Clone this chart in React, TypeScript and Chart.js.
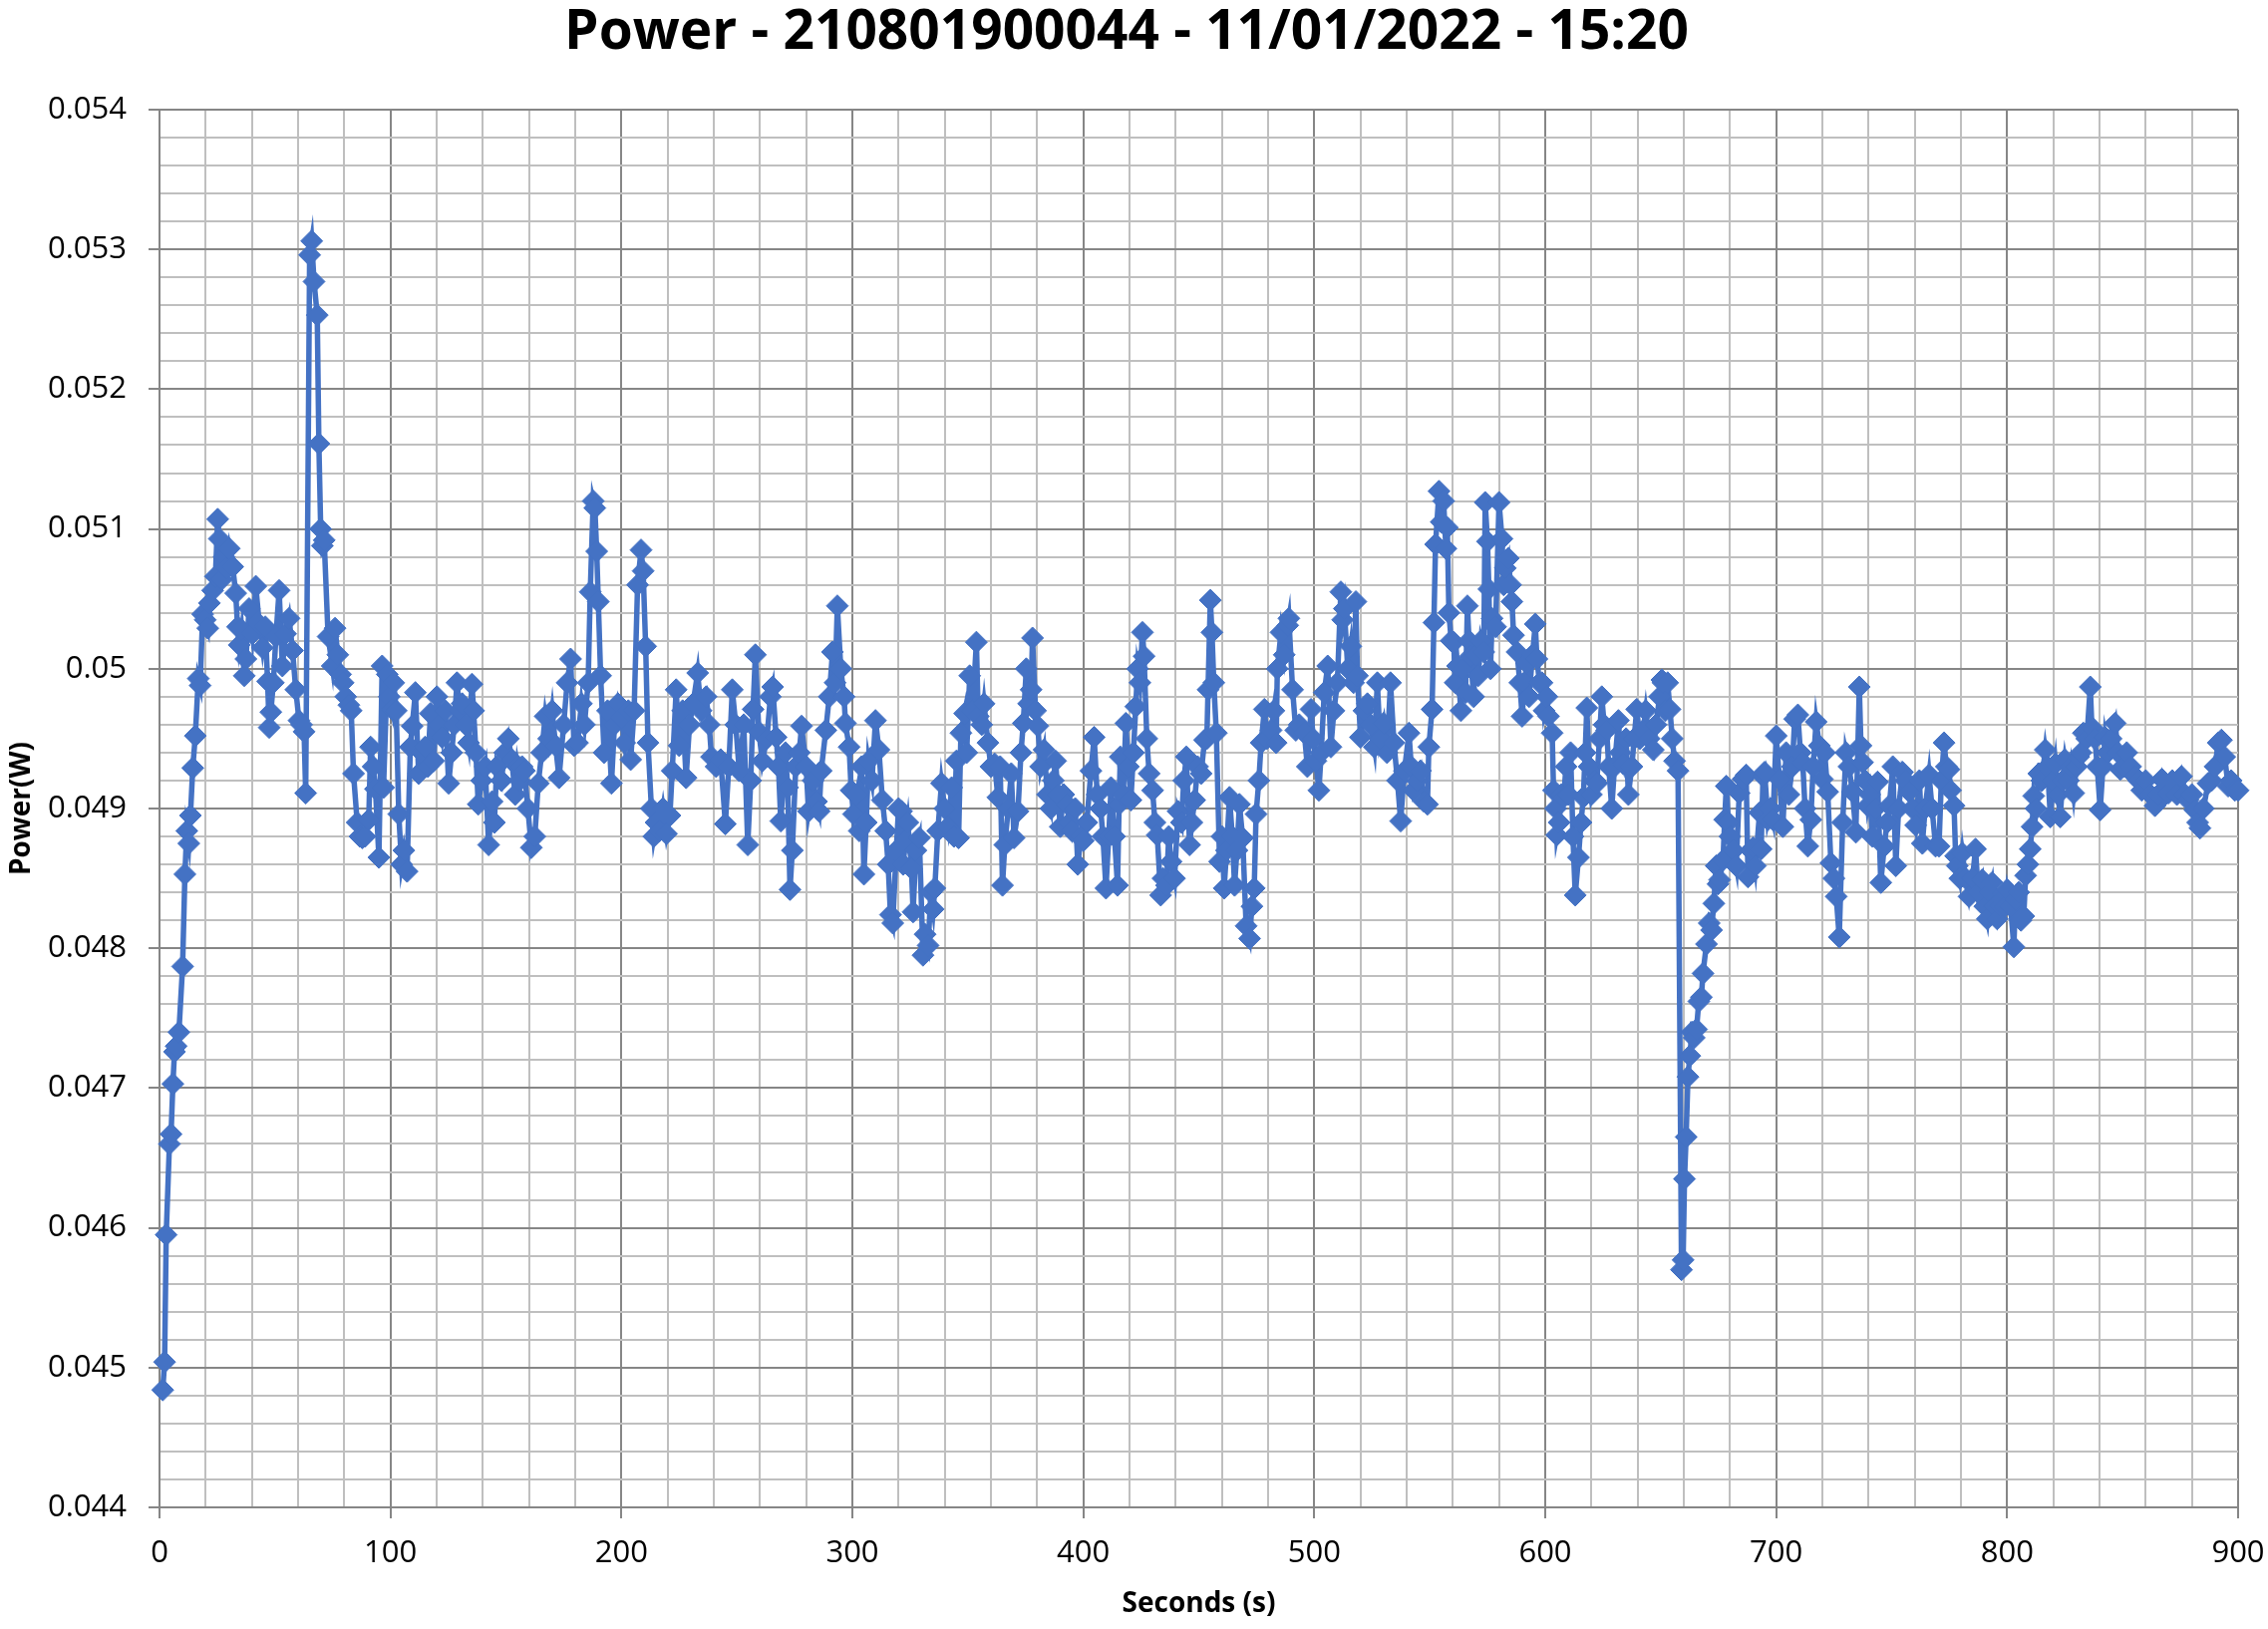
import React, { useEffect, useRef } from "react";
import { Chart, registerables } from "chart.js";

Chart.register(...registerables);

const chartTitle = "Power - 210801900044 - 11/01/2022 - 15:20";
const xAxisTitle = "Seconds (s)";
const yAxisTitle = "Power(W)";
const xMin = 0;
const xMax = 900;
const xStep = 20;
const xMajor = 100;
const yMin = 0.044;
const yMax = 0.054;
const yStep = 0.0002;
const yMajor = 0.001;

// [seconds, watts] readings, split per 100 s
const seg000: [number, number][] = [
  [1.4,0.04484],[2.2,0.04504],[2.9,0.04595],[4.3,0.0466],[5.0,0.04667],[5.8,0.04703],[6.5,0.04726],[7.2,0.0473],[8.4,0.0474],[10.0,0.04787],[11.0,0.04853],[11.8,0.04884],[12.7,0.04875],[13.4,0.04895],[14.4,0.04929],[15.5,0.04952],[16.8,0.04993],[17.6,0.04988],[18.7,0.05039],[19.8,0.05035],[20.9,0.05029],[21.6,0.05047],[23.0,0.05056],[24.2,0.05066],[25.2,0.05107],[25.9,0.05093],[27.0,0.05064],[28.0,0.0508],[29.0,0.05072],[30.2,0.05086],[31.7,0.05073],[33.0,0.05054],[33.8,0.0503],[34.5,0.05017],[35.5,0.05028],[36.7,0.04995],[37.4,0.05007],[38.8,0.05043],[40.2,0.05025],[41.7,0.05059],[43.2,0.05032],[44.6,0.05015],[45.8,0.0503],[46.8,0.04991],[47.5,0.04958],[48.2,0.04969],[49.3,0.0499],[50.4,0.05023],[51.8,0.05056],[53.2,0.05002],[54.6,0.05025],[56.1,0.05036],[57.6,0.05013],[59.0,0.04985],[60.4,0.04963],[61.5,0.0496],[62.6,0.04955],[63.3,0.04911],[65.0,0.05296],[65.9,0.05306],[66.9,0.05277],[68.3,0.05253],[69.0,0.05161],[69.8,0.051],[70.5,0.05088],[71.3,0.05092],[73.0,0.05023],[74.8,0.05002],[76.0,0.05029],[77.2,0.0501],[78.4,0.04996],[79.5,0.0499],[80.6,0.0498],[82.0,0.04974],[83.0,0.0497],[84.0,0.04925],[85.6,0.0489],[86.8,0.0488],[87.8,0.04879],[89.0,0.0488],[90.6,0.04892],[91.4,0.04944],[92.5,0.0493],[93.5,0.04914],[95.0,0.04865],[96.4,0.05002],[97.0,0.04915],[98.6,0.04996],[99.5,0.0498],
];
const seg100: [number, number][] = [
  [100.7,0.04971],[101.4,0.0499],[102.5,0.0497],[103.6,0.04896],[104.8,0.0486],[105.8,0.0487],[107.2,0.04855],[108.6,0.04944],[109.4,0.04959],[110.8,0.04983],[112.2,0.04925],[113.5,0.0494],[115.0,0.04944],[116.2,0.0493],[117.3,0.04968],[118.7,0.04934],[120.1,0.0498],[121.2,0.0496],[122.3,0.04951],[123.7,0.0497],[125.2,0.04918],[126.5,0.0494],[127.6,0.0496],[128.8,0.0499],[130.0,0.0497],[131.0,0.04975],[132.5,0.0496],[133.8,0.04947],[135.3,0.04989],[136.0,0.0497],[137.0,0.0494],[138.0,0.04903],[139.5,0.0492],[141.0,0.0493],[142.5,0.04874],[144.0,0.04905],[145.0,0.0489],[146.0,0.0493],[148.0,0.0492],[149.5,0.0494],[151.0,0.0495],[152.5,0.04935],[154.0,0.0491],[155.0,0.0493],[156.0,0.0492],[157.0,0.0493],[158.0,0.04927],[159.5,0.049],[161.0,0.04872],[162.5,0.0488],[164.0,0.04918],[165.5,0.0494],[167.0,0.04966],[168.5,0.0495],[170.0,0.0497],[171.5,0.04945],[173.0,0.04922],[175.0,0.0496],[176.5,0.0499],[178.0,0.05007],[179.5,0.04945],[181.0,0.04947],[182.7,0.04975],[184.0,0.0496],[185.6,0.0499],[186.5,0.05055],[187.8,0.0512],[188.5,0.05115],[189.3,0.05084],[190.0,0.05048],[191.0,0.04995],[192.5,0.0494],[194.0,0.0497],[195.7,0.04918],[197.0,0.0496],[198.5,0.04975],[200.0,0.04965],
];
const seg200: [number, number][] = [
  [201.4,0.04947],[203.0,0.0497],[204.0,0.04935],[205.5,0.0497],[207.0,0.0506],[208.5,0.05085],[209.4,0.0507],[210.5,0.05016],[211.5,0.04947],[213.0,0.049],[214.0,0.0488],[215.0,0.0489],[216.5,0.04884],[218.0,0.049],[219.5,0.04882],[221.0,0.04895],[222.0,0.04927],[223.7,0.04985],[225.0,0.04945],[226.5,0.0497],[228.0,0.04922],[229.5,0.0496],[231.0,0.04975],[233.0,0.04997],[234.5,0.0497],[236.7,0.0498],[238.0,0.0496],[239.0,0.04937],[241.0,0.0493],[243.0,0.04935],[245.0,0.04889],[246.5,0.0493],[248.0,0.04985],[249.5,0.0496],[251.0,0.04927],[253.0,0.0496],[254.7,0.04874],[256.0,0.0492],[257.0,0.04971],[258.0,0.0501],[259.5,0.04955],[261.0,0.04934],[263.0,0.0495],[264.5,0.0498],[265.5,0.04987],[267.0,0.04951],[268.0,0.0493],[269.0,0.04891],[271.0,0.0494],[272.0,0.04915],[273.0,0.04842],[274.0,0.0487],[275.5,0.0493],[277.0,0.0494],[278.0,0.04959],[280.0,0.0493],[281.0,0.04898],[283.0,0.0492],[284.5,0.04905],[285.6,0.04898],[286.5,0.04927],[288.5,0.04956],[290.0,0.0498],[291.4,0.05012],[292.5,0.0499],[293.5,0.05045],[295.0,0.05],[296.4,0.0498],[297.0,0.04961],[298.6,0.04944],[299.5,0.04913],
];
const seg300: [number, number][] = [
  [300.5,0.04896],[302.0,0.0491],[303.0,0.04884],[304.0,0.0493],[305.0,0.04853],[306.0,0.0489],[307.0,0.04934],[308.5,0.0492],[310.0,0.04963],[311.5,0.04942],[313.0,0.04906],[314.4,0.04884],[315.5,0.0486],[316.5,0.04824],[317.5,0.04818],[319.0,0.0487],[320.0,0.049],[321.3,0.04898],[322.0,0.0486],[323.0,0.04877],[324.0,0.0489],[325.6,0.04857],[326.3,0.04826],[327.5,0.0487],[329.0,0.04879],[330.6,0.04795],[331.5,0.0481],[332.8,0.04802],[334.0,0.0484],[335.0,0.04828],[335.7,0.04843],[337.0,0.04884],[338.6,0.04918],[340.0,0.049],[341.4,0.04887],[343.0,0.04915],[344.0,0.0488],[345.0,0.04934],[346.0,0.04879],[347.0,0.04954],[348.6,0.04968],[349.5,0.0494],[350.8,0.04995],[352.0,0.0497],[353.7,0.05019],[354.5,0.04966],[356.0,0.0496],[357.0,0.04975],[358.7,0.04947],[360.0,0.0493],[361.6,0.04932],[363.0,0.04908],[364.0,0.0493],[365.0,0.04845],[366.0,0.04874],[367.5,0.049],[368.8,0.04925],[370.0,0.04879],[371.7,0.04898],[373.0,0.0494],[374.0,0.04961],[375.3,0.05],[376.3,0.04975],[377.4,0.04985],[378.0,0.05022],[379.3,0.0497],[380.3,0.04959],[381.5,0.0493],[383.0,0.04942],[384.5,0.0491],[386.0,0.049],[387.0,0.0492],[388.0,0.04934],[389.0,0.0491],[390.0,0.04887],[391.5,0.0491],[393.0,0.04903],[394.0,0.0489],[395.0,0.04884],[396.5,0.049],[397.6,0.0486],[399.0,0.0488],
];
const seg400: [number, number][] = [
  [400.0,0.04877],[401.5,0.0489],[403.3,0.04927],[404.7,0.04951],[406.0,0.0491],[407.5,0.049],[408.5,0.0488],[409.8,0.04843],[411.0,0.0488],[412.0,0.04915],[413.5,0.0488],[414.8,0.04845],[415.5,0.04903],[416.0,0.04937],[417.3,0.0491],[418.4,0.04961],[419.5,0.0493],[420.6,0.04906],[421.7,0.0494],[422.7,0.04973],[423.5,0.05],[424.5,0.0499],[425.6,0.05026],[426.3,0.05009],[427.5,0.0495],[428.5,0.04925],[430.0,0.04913],[431.0,0.0489],[432.0,0.04881],[433.5,0.04838],[434.5,0.0485],[436.0,0.04845],[437.0,0.0488],[438.0,0.04862],[439.5,0.0485],[441.0,0.04898],[442.5,0.0489],[443.5,0.0492],[444.6,0.04937],[446.0,0.04874],[447.0,0.0489],[448.2,0.04906],[449.5,0.0493],[451.0,0.04925],[452.5,0.04949],[453.5,0.0495],[454.0,0.04985],[455.0,0.05049],[455.7,0.05026],[456.5,0.0499],[457.6,0.04954],[459.0,0.04862],[460.0,0.0488],[461.0,0.04843],[462.0,0.0487],[463.3,0.04908],[464.5,0.0488],[465.5,0.04845],[466.5,0.0487],[467.6,0.04903],[469.0,0.04879],[470.5,0.04816],[472.0,0.04807],[473.0,0.0483],[474.0,0.04843],[474.8,0.04896],[476.0,0.0492],[477.0,0.04947],[478.4,0.04971],[479.5,0.0495],[481.3,0.04956],[482.5,0.0497],[483.5,0.04947],[484.0,0.05],[485.6,0.05026],[487.0,0.0501],[488.5,0.05031],[489.0,0.05036],[490.6,0.04985],[492.0,0.04956],[493.5,0.0496],[495.7,0.04954],[497.0,0.0493],[498.6,0.04971],[499.5,0.0495],
];
const seg500: [number, number][] = [
  [500.7,0.04934],[502.0,0.04913],[503.0,0.0494],[504.3,0.04983],[505.8,0.05002],[507.2,0.04944],[508.5,0.0497],[510.0,0.0499],[511.5,0.05055],[512.3,0.05035],[513.0,0.05043],[514.5,0.05],[515.8,0.05016],[517.0,0.0499],[518.0,0.05048],[518.7,0.04995],[520.0,0.04951],[521.5,0.0497],[523.0,0.04975],[524.5,0.0496],[526.0,0.04944],[527.3,0.0499],[528.5,0.0495],[530.0,0.04961],[531.5,0.0494],[533.0,0.0499],[534.5,0.04947],[536.0,0.0492],[537.4,0.04891],[539.0,0.04927],[541.0,0.04954],[542.0,0.0493],[543.0,0.04913],[544.5,0.0492],[546.0,0.04927],[547.5,0.04905],[549.0,0.04903],[549.6,0.04944],[551.0,0.04971],[551.8,0.05033],[552.5,0.05089],[554.0,0.05127],[555.0,0.05105],[556.0,0.0512],[557.0,0.05086],[557.6,0.05101],[558.3,0.0504],[559.3,0.0502],[560.4,0.05019],[561.0,0.0499],[562.0,0.05002],[563.5,0.0497],[564.5,0.05],[565.5,0.04983],[566.3,0.05045],[567.0,0.0502],[567.7,0.05009],[569.0,0.0498],[570.0,0.0501],[571.0,0.04995],[572.2,0.0502],[573.4,0.05012],[574.0,0.05119],[575.0,0.05091],[575.6,0.05057],[576.3,0.05],[577.0,0.05036],[578.5,0.0503],[580.0,0.05119],[581.3,0.05093],[582.0,0.0506],[582.7,0.05072],[584.0,0.05079],[585.0,0.0506],[585.6,0.05048],[586.3,0.05024],[587.8,0.05012],[589.0,0.0499],[590.0,0.04966],[591.0,0.0499],[592.0,0.05004],[593.0,0.0498],[594.5,0.0501],[595.7,0.05032],[596.4,0.05007],[597.5,0.0499],[598.6,0.0499],[599.5,0.0497],
];
const seg600: [number, number][] = [
  [600.7,0.0498],[601.4,0.04966],[603.0,0.04954],[603.6,0.04913],[604.5,0.049],[605.0,0.04881],[606.0,0.0489],[607.0,0.0491],[608.0,0.04908],[609.0,0.0493],[610.0,0.0491],[611.0,0.0494],[612.0,0.0488],[613.0,0.04838],[614.4,0.04865],[615.5,0.0489],[616.5,0.04908],[617.3,0.0494],[618.0,0.04972],[619.0,0.0493],[620.0,0.0491],[621.5,0.0492],[622.3,0.04918],[623.5,0.0495],[624.5,0.0498],[625.5,0.0496],[626.6,0.04956],[627.5,0.0493],[628.8,0.049],[630.0,0.0493],[631.7,0.04963],[632.5,0.0494],[633.8,0.04932],[635.0,0.0495],[636.0,0.0491],[637.5,0.0493],[638.5,0.0495],[639.6,0.04971],[641.0,0.0495],[642.4,0.04956],[643.5,0.0497],[645.0,0.0495],[646.8,0.04942],[648.0,0.0496],[649.5,0.0498],[650.5,0.04992],[651.0,0.0499],[652.0,0.0497],[653.0,0.0499],[654.0,0.04971],[655.0,0.0495],[656.0,0.04934],[657.5,0.04927],[659.0,0.0457],[659.7,0.04577],[660.3,0.04635],[661.0,0.04665],[661.8,0.04708],[662.6,0.04723],[663.5,0.0474],[664.5,0.04736],[665.5,0.04742],[666.5,0.04762],[667.6,0.04765],[668.3,0.04782],[669.8,0.04803],[671.0,0.04818],[672.0,0.04813],[673.0,0.04832],[674.0,0.04859],[674.8,0.04846],[675.5,0.04849],[677.0,0.04863],[677.7,0.04892],[678.4,0.04916],[679.3,0.0489],[680.0,0.0488],[681.5,0.0487],[682.7,0.04859],[684.0,0.04911],[685.6,0.04921],[687.0,0.04924],[687.8,0.04851],[689.0,0.0487],[690.0,0.04872],[691.0,0.04859],[692.8,0.04897],[693.5,0.04871],[694.3,0.04923],[695.0,0.04926],[696.4,0.04892],[697.5,0.049],[698.6,0.04892],
];
const seg700: [number, number][] = [
  [700.0,0.04952],[701.4,0.04921],[702.9,0.04887],[704.3,0.0494],[705.5,0.0491],[707.0,0.0493],[708.0,0.04964],[709.4,0.04967],[710.5,0.0494],[711.5,0.04933],[712.5,0.049],[713.7,0.04873],[715.0,0.04892],[716.0,0.0493],[717.3,0.04962],[718.7,0.04945],[720.0,0.04921],[721.0,0.0494],[722.3,0.04912],[723.7,0.04861],[725.0,0.0485],[726.0,0.04837],[727.3,0.04808],[728.8,0.0489],[730.2,0.0494],[731.5,0.0493],[733.0,0.04912],[734.5,0.04883],[736.0,0.04987],[736.7,0.04945],[737.4,0.04933],[738.5,0.0492],[739.6,0.04902],[740.5,0.0491],[741.7,0.0488],[743.0,0.049],[743.9,0.04919],[745.3,0.04847],[746.8,0.04873],[748.0,0.0489],[749.0,0.04902],[750.5,0.0493],[751.8,0.04859],[753.0,0.049],[754.7,0.04926],[756.0,0.0492],[757.6,0.04912],[759.0,0.049],[760.4,0.04888],[762.0,0.0492],[763.3,0.04875],[764.5,0.049],[766.2,0.04924],[767.5,0.049],[769.0,0.04873],[770.5,0.04873],[771.5,0.0492],[772.7,0.04947],[773.7,0.0493],[774.8,0.04928],[775.5,0.04913],[777.0,0.04902],[777.7,0.04866],[778.4,0.04859],[779.5,0.0485],[780.6,0.04868],[782.0,0.0485],[783.5,0.04837],[785.0,0.0485],[786.3,0.04871],[787.5,0.0484],[789.2,0.04849],[790.3,0.0483],[791.4,0.04821],[792.5,0.0484],[793.5,0.04847],[794.5,0.0483],[795.7,0.04821],[797.0,0.0483],[797.8,0.04835],[799.0,0.0483],
];
const seg800: [number, number][] = [
  [800.0,0.04842],[801.5,0.0483],[802.9,0.04801],[803.6,0.04835],[805.0,0.0484],[806.0,0.0482],[807.2,0.04823],[808.0,0.04852],[809.0,0.0486],[810.0,0.04871],[810.8,0.04887],[811.5,0.04909],[812.5,0.049],[813.7,0.04925],[815.0,0.0492],[816.5,0.04942],[817.5,0.0493],[818.7,0.04894],[820.0,0.0492],[820.9,0.04932],[822.0,0.0491],[823.0,0.04894],[824.0,0.0492],[825.0,0.04935],[826.5,0.0492],[827.5,0.0493],[828.8,0.04911],[830.0,0.0493],[831.0,0.04937],[832.0,0.0494],[833.0,0.04954],[834.5,0.0495],[836.0,0.04987],[836.7,0.04958],[838.0,0.0495],[839.0,0.0493],[840.3,0.04899],[841.5,0.0493],[842.4,0.04951],[843.5,0.0494],[845.0,0.0495],[846.8,0.04961],[848.0,0.0494],[849.0,0.04928],[850.5,0.0493],[851.8,0.0494],[853.5,0.0493],[855.4,0.04923],[857.0,0.0492],[858.3,0.04913],[860.0,0.0492],[862.0,0.0491],[864.0,0.04902],[865.5,0.0491],[867.0,0.04921],[868.5,0.0491],[869.8,0.04911],[871.5,0.0492],[873.5,0.0491],[875.5,0.04923],[877.0,0.0491],[878.4,0.04906],[880.0,0.0491],[881.3,0.04899],[882.5,0.0489],[883.5,0.04886],[885.0,0.049],[887.0,0.04918],[888.5,0.0492],[890.0,0.0493],[891.4,0.04947],[892.8,0.04949],[894.2,0.04937],[895.7,0.04916],[897.0,0.0492],[898.6,0.04913],[900.0,0.04913],
];

const segments = [seg000, seg100, seg200, seg300, seg400, seg500, seg600, seg700, seg800];

const SERIES_COLOR = "#4472C4";
const MAJOR_GRID = "#868686";
const MINOR_GRID = "#bfbfbf";
const FONT = "'Open Sans', 'Liberation Sans', sans-serif";

function isMultiple(v: number, step: number) {
  const r = v / step;
  return Math.abs(r - Math.round(r)) < 1e-6;
}

export default function App() {
  const canvasRef = useRef<HTMLCanvasElement | null>(null);

  useEffect(() => {
    document.body.style.margin = "0";
    document.body.style.overflow = "hidden";
    const canvas = canvasRef.current;
    if (!canvas) return;
    const points = segments.flat().map(([s, p]) => ({ x: s, y: p }));

    const chart = new Chart(canvas, {
      type: "line",
      data: {
        datasets: [
          {
            label: yAxisTitle,
            data: points,
            borderColor: SERIES_COLOR,
            backgroundColor: SERIES_COLOR,
            borderWidth: 5.5,
            tension: 0,
            pointStyle: "rectRot",
            pointRadius: 11,
            pointBorderWidth: 1,
            pointBackgroundColor: SERIES_COLOR,
            pointBorderColor: SERIES_COLOR,
            clip: false as any,
          },
        ],
      },
      options: {
        animation: false,
        responsive: true,
        maintainAspectRatio: false,
        layout: { padding: { left: 0, right: 15, top: 0, bottom: 0 } },
        plugins: {
          legend: { display: false },
          tooltip: { enabled: false },
          title: {
            display: true,
            text: chartTitle,
            color: "#000",
            font: { family: FONT, size: 55, weight: "bold", lineHeight: 1.2 },
            padding: { top: 0, bottom: 44 },
          },
        },
        scales: {
          x: {
            type: "linear",
            min: xMin,
            max: xMax,
            afterFit: (scale: any) => {
              scale.height = 122;
              scale.paddingRight = 30;
              scale.paddingLeft = 0;
            },
            ticks: {
              stepSize: xStep,
              autoSkip: false,
              maxRotation: 0,
              minRotation: 0,
              color: "#000",
              padding: 17,
              font: { family: FONT, size: 31 },
              callback: (v: any) => (isMultiple(Number(v), xMajor) ? String(Math.round(Number(v))) : ""),
            },
            grid: {
              color: (ctx: any) => (ctx.tick && isMultiple(ctx.tick.value, xMajor) ? MAJOR_GRID : MINOR_GRID),
              tickColor: (ctx: any) => (ctx.tick && isMultiple(ctx.tick.value, xMajor) ? MAJOR_GRID : "rgba(0,0,0,0)"),
              lineWidth: 2,
              tickLength: 11,
              drawTicks: true,
            },
            border: { display: true, color: MAJOR_GRID, width: 2 },
            title: {
              display: true,
              text: xAxisTitle,
              color: "#000",
              font: { family: FONT, size: 28, weight: "bold", lineHeight: 1.2 },
              padding: { top: 0, bottom: 8 },
            },
          },
          y: {
            type: "linear",
            min: yMin,
            max: yMax,
            afterFit: (scale: any) => {
              scale.width = 160;
            },
            ticks: {
              stepSize: yStep,
              autoSkip: false,
              color: "#000",
              padding: 22,
              font: { family: FONT, size: 31 },
              callback: (v: any) => (isMultiple(Number(v), yMajor) ? String(Number(Number(v).toFixed(3))) : ""),
            },
            grid: {
              color: (ctx: any) => (ctx.tick && isMultiple(ctx.tick.value, yMajor) ? MAJOR_GRID : MINOR_GRID),
              tickColor: (ctx: any) => (ctx.tick && isMultiple(ctx.tick.value, yMajor) ? MAJOR_GRID : "rgba(0,0,0,0)"),
              lineWidth: 2,
              tickLength: 11,
              drawTicks: true,
            },
            border: { display: true, color: MAJOR_GRID, width: 2 },
            title: {
              display: true,
              text: yAxisTitle,
              color: "#000",
              font: { family: FONT, size: 28, weight: "bold", lineHeight: 1.2 },
              padding: { top: 5, bottom: 0 },
            },
          },
        },
      },
    });
    return () => chart.destroy();
  }, []);

  return (
    <div style={{ width: "2275px", height: "1634px", position: "relative", background: "#fff" }}>
      <canvas ref={canvasRef} />
    </div>
  );
}
